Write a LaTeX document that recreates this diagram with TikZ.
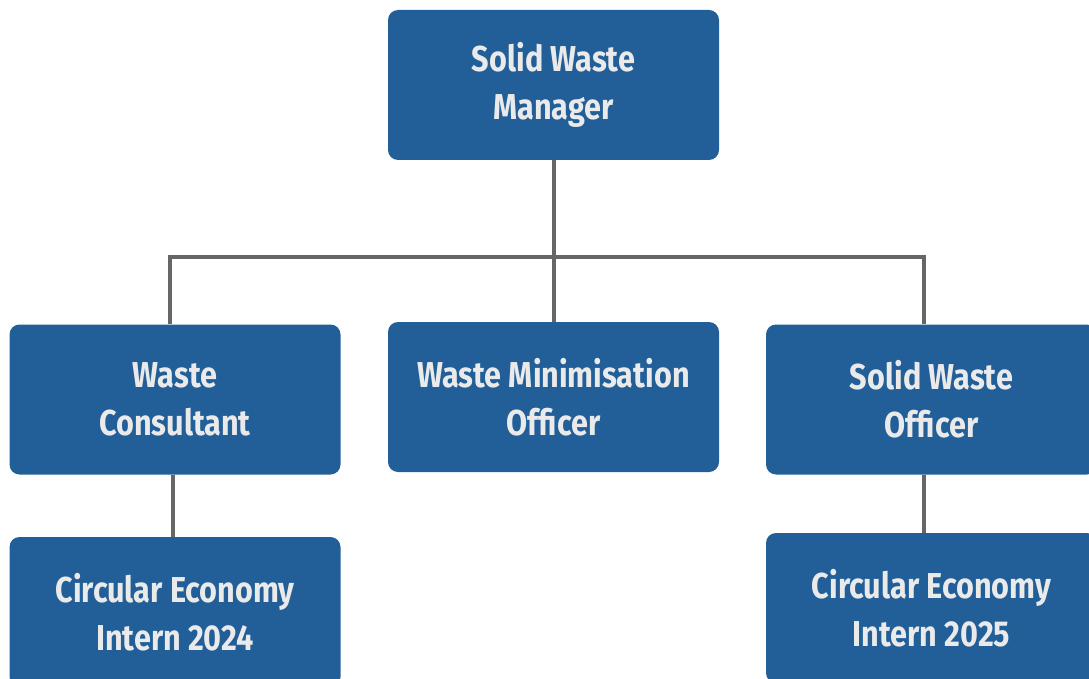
\documentclass[tikz,border=0pt]{standalone}
\usepackage{fontspec}
\setmainfont{Fira Sans}[FakeStretch=0.85]
\definecolor{postblue}{HTML}{225F99}
\definecolor{posttext}{HTML}{EAEAEA}
\definecolor{linkgray}{HTML}{666666}
\begin{document}
\begin{tikzpicture}[x=1pt,y=-1pt,
    post/.style={fill=postblue,rounded corners=10pt,minimum width=331pt,minimum height=150pt,
        align=center,text=posttext,font=\fontsize{36}{48}\selectfont\bfseries},
    link/.style={linkgray,line width=4pt}]
                \useasboundingbox (0,0) rectangle (1089,679);
                \clip (0,0) rectangle (1089,679);
                %% posts
                \node[post] (mgr) at (553.5,85) {Solid Waste\\Manager};
                \node[post] (cons) at (175,399.5) {Waste\\Consultant};
                \node[post] (mini) at (553.5,397) {Waste Minimisation\\Officer};
                \node[post] (off) at (931.5,399.5) {Solid Waste\\Officer};
                \node[post] (int24) at (175,612) {Circular Economy\\Intern 2024};
                \node[post] (int25) at (931.5,608) {Circular Economy\\Intern 2025};
                %% lines
                \coordinate (split) at (553.5,257);
                \draw[link] (mgr.south) -- (split);
                \draw[link] (split) -| ([xshift=-5pt]cons.north);
                \draw[link] (split) -| ([xshift=-7.5pt]off.north);
                \draw[link] (split) -- (mini.north);
                \draw[link] ([xshift=-2pt]cons.south) -- ([xshift=-2pt]int24.north);
                \draw[link] ([xshift=-7.5pt]off.south) -- ([xshift=-7.5pt]int25.north);
            \end{tikzpicture}
\end{document}
